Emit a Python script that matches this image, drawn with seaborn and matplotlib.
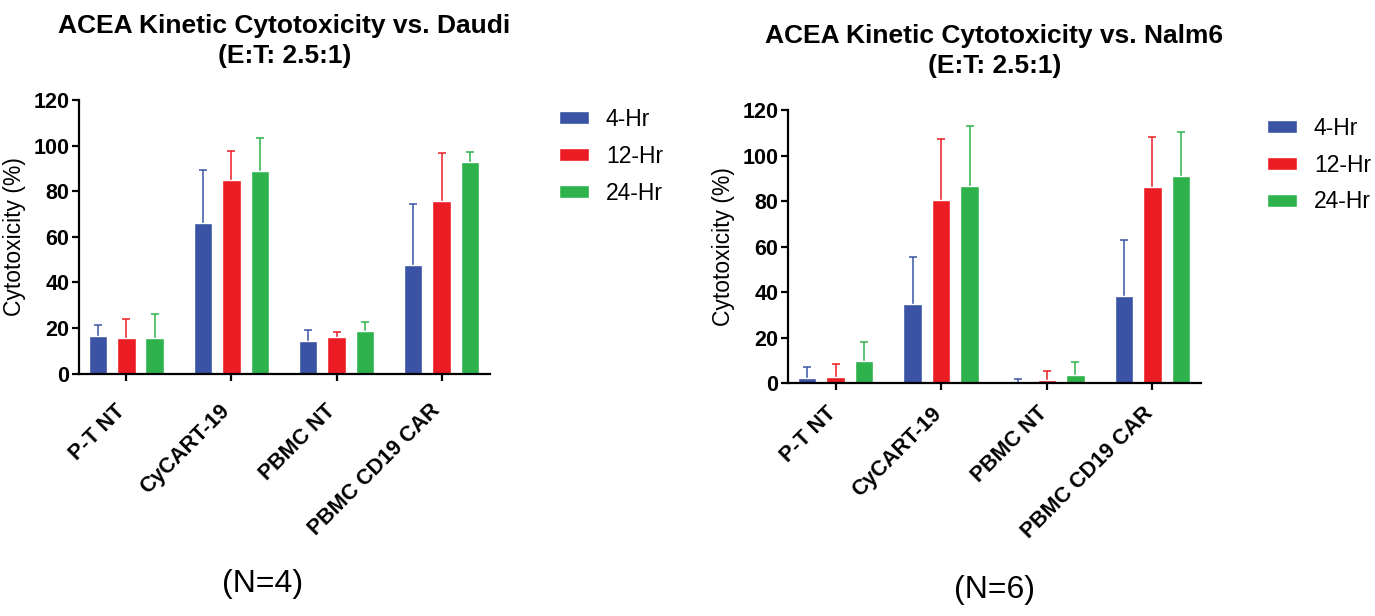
import numpy as np
import pandas as pd
import matplotlib
matplotlib.use("Agg")
import matplotlib.pyplot as plt
import matplotlib.transforms as mtransforms
import seaborn as sns

groups = ["P-T NT", "CyCART-19", "PBMC NT", "PBMC CD19 CAR"]
times = ["4-Hr", "12-Hr", "24-Hr"]
colors = ["#3A53A4", "#EC1C24", "#2EB24B"]

# Daudi (N=4): mean and upper error-bar top, per time point
daudi_mean = {"4-Hr": [16.7, 66.2, 14.5, 47.7],
              "12-Hr": [15.5, 85.0, 16.0, 75.9],
              "24-Hr": [15.5, 88.9, 18.9, 92.7]}
daudi_top = {"4-Hr": [21.2, 89.3, 19.0, 74.4],
             "12-Hr": [24.0, 97.5, 18.2, 96.9],
             "24-Hr": [26.2, 103.2, 22.8, 97.4]}

# Nalm6 (N=6)
nalm6_mean = {"4-Hr": [2.5, 35.0, 0.5, 38.4],
              "12-Hr": [2.9, 80.4, 1.3, 86.3],
              "24-Hr": [9.8, 86.7, 3.7, 91.1]}
nalm6_top = {"4-Hr": [7.0, 55.5, 1.8, 63.1],
             "12-Hr": [8.4, 107.4, 5.4, 108.1],
             "24-Hr": [18.0, 113.1, 9.5, 110.6]}

sns.set_style("ticks")
plt.rcParams["font.family"] = ["Liberation Sans", "DejaVu Sans"]
for k in ("text.color", "axes.labelcolor", "xtick.color", "ytick.color", "axes.edgecolor"):
    plt.rcParams[k] = "black"

W, H = 1375, 616


def draw(ax, mean, top, title, shift):
    df = pd.DataFrame([(g, t, mean[t][i]) for t in times for (i, g) in enumerate(groups)],
                      columns=["group", "time", "value"])
    sns.barplot(data=df, x="group", y="value", hue="time", order=groups, hue_order=times,
                palette=colors, width=0.81, gap=0.35, errorbar=None, saturation=1,
                legend=False, ax=ax, zorder=2)
    bars = list(ax.containers)
    for (k, cont) in enumerate(bars):
        t = times[k]
        xs = [p.get_x() + p.get_width() / 2 for p in cont.patches]
        ys = [p.get_height() for p in cont.patches]
        up = [max(top[t][i] - ys[i], 0) for i in range(len(ys))]
        eb = ax.errorbar(xs, ys, yerr=[[0] * len(ys), up], fmt="none", ecolor=colors[k],
                         elinewidth=1.1, capsize=2.8, capthick=1.1, zorder=1)
        # keep only the upper caps
        for cl in eb.lines[1]:
            if np.allclose(cl.get_ydata(), ys):
                cl.set_visible(False)
    ax.set_xlim(-0.45, 3.46)
    ax.set_ylim(0, 120)
    ax.set_yticks(range(0, 121, 20))
    ax.set_xlabel("")
    ax.set_ylabel("Cytotoxicity (%)", fontsize=16.5, labelpad=5)
    ax.set_title(title, fontsize=19, fontweight="bold", pad=27, linespacing=1.3)
    for s in ("top", "right"):
        ax.spines[s].set_visible(False)
    for s in ("left", "bottom"):
        ax.spines[s].set_linewidth(1.6)
    ax.tick_params(axis="both", width=1.6, length=5, labelsize=15.5, pad=2)
    for lab in ax.get_yticklabels():
        lab.set_fontweight("bold")
    ax.set_xticks(range(len(groups)))
    ax.set_xticklabels(groups, rotation=45, ha="right", va="top", rotation_mode="anchor",
                       fontweight="bold", fontsize=15.5)
    off = mtransforms.ScaledTranslation(shift[0] / 100, shift[1] / 100, ax.figure.dpi_scale_trans)
    for lab in ax.get_xticklabels():
        lab.set_transform(lab.get_transform() + off)
    return bars


fig = plt.figure(figsize=(W / 100, H / 100), dpi=100)
ax1 = fig.add_axes([79 / W, 1 - 373.7 / H, 411 / W, 273.7 / H])
ax2 = fig.add_axes([788 / W, 1 - 383.3 / H, 413 / W, 273 / H])

b1 = draw(ax1, daudi_mean, daudi_top, "ACEA Kinetic Cytotoxicity vs. Daudi\n(E:T: 2.5:1)", (-12, -17))
b2 = draw(ax2, nalm6_mean, nalm6_top, "ACEA Kinetic Cytotoxicity vs. Nalm6\n(E:T: 2.5:1)", (-10, -10))

for (ax, bars, x0, y0) in ((ax1, b1, 559, 108), (ax2, b2, 1267, 117)):
    fig.legend(handles=[c.patches[0] for c in bars], labels=times, loc="upper left",
               bbox_to_anchor=(x0 / W, 1 - y0 / H), frameon=False, fontsize=16.5,
               handlelength=1.3, handleheight=0.5, handletextpad=0.75,
               labelspacing=0.6, borderpad=0, borderaxespad=0)

fig.text(263 / W, 1 - 584 / H, "(N=4)", ha="center", va="center", fontsize=23)
fig.text(994 / W, 1 - 590 / H, "(N=6)", ha="center", va="center", fontsize=23)

fig.savefig("out.png", dpi=100)
